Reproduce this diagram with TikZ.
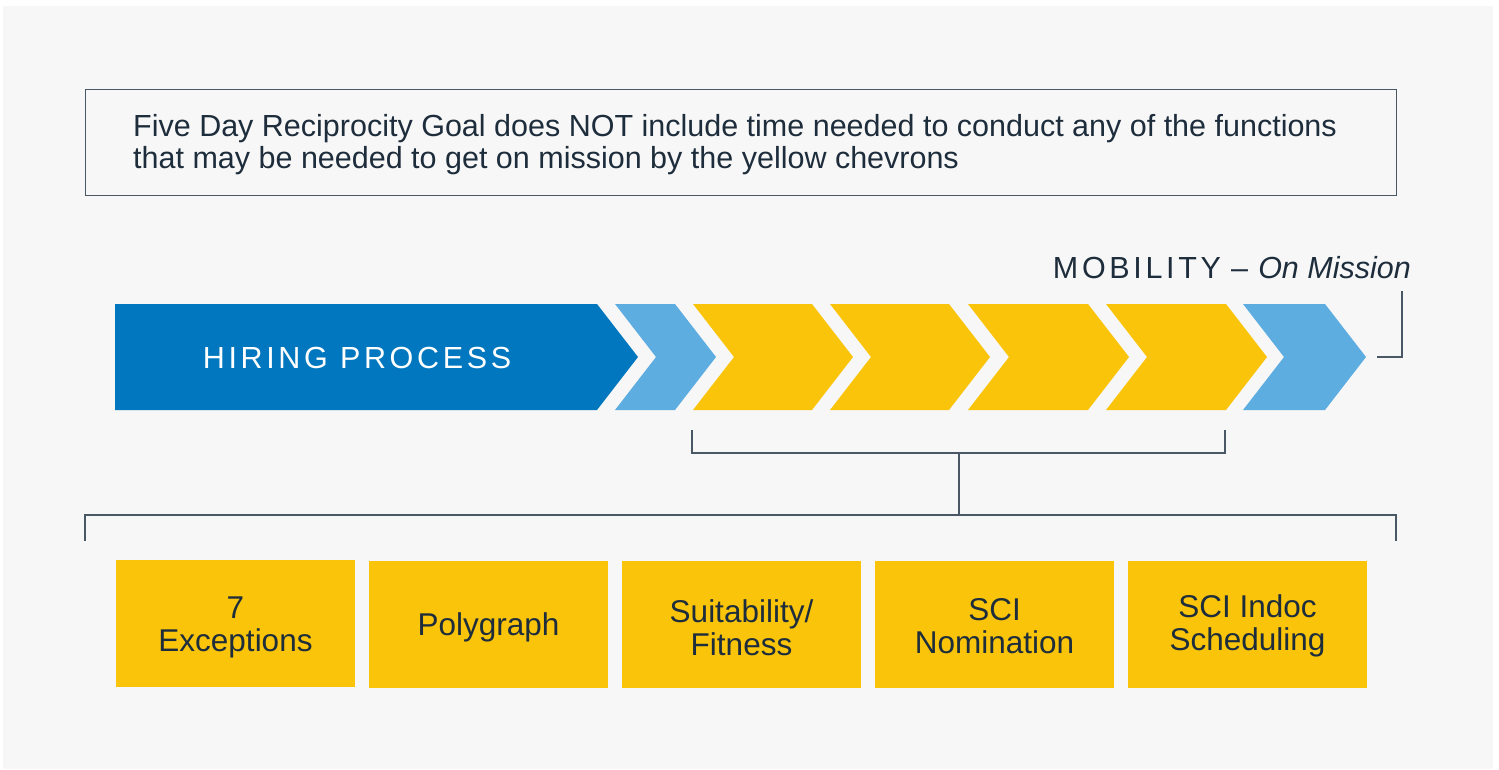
\documentclass[tikz,border=0pt]{standalone}
\usepackage{fontspec}
\setmainfont{Liberation Sans}
\newfontfamily\spacedfont[LetterSpace=12]{Liberation Sans}
\definecolor{bg}{HTML}{F7F7F7}
\definecolor{dblue}{HTML}{0077BE}
\definecolor{lblue}{HTML}{5EADE0}
\definecolor{yel}{HTML}{F9C409}
\definecolor{txt}{HTML}{1E2D3C}
\definecolor{linec}{HTML}{4A5866}
\newcommand\chevshape[3]{\fill[#1] (#2,304) -- (#3,304) -- ({#3+41},357) -- (#3,410) -- (#2,410) -- ({#2+41},357) -- cycle;}
\begin{document}
\begin{tikzpicture}[x=1pt,y=-1pt,
  ybox/.style={fill=yel, minimum width=239pt, minimum height=127pt, inner sep=0pt},
  ylab/.style={inner sep=0pt, align=center, text=txt, font=\fontsize{31.5}{33}\selectfont},
  conn/.style={draw=linec, line width=1.3pt}]
\useasboundingbox (0,0) rectangle (1499,769);
\fill[white] (0,0) rectangle (1499,769);
\fill[bg] (3,6) rectangle (1493,769);
% goal box
\node[draw=linec, line width=1.2pt, minimum width=1311pt, minimum height=106pt, anchor=north west, inner sep=0pt] (goal) at (85,89) {};
\node[anchor=west, align=left, inner sep=0pt, text=txt, font=\fontsize{30.5}{32}\selectfont] (goaltext) at (133,144.5) {Five Day Reciprocity Goal does NOT include time needed to conduct any of the functions\\that may be needed to get on mission by the yellow chevrons};
% chevrons
\fill[dblue] (115,304) -- (597,304) -- (638,357) -- (597,410) -- (115,410) -- cycle;
\chevshape{lblue}{615}{675}
\chevshape{yel}{693}{812}
\chevshape{yel}{830}{949}
\chevshape{yel}{968}{1088}
\chevshape{yel}{1106}{1226}
\chevshape{lblue}{1243}{1325}
\node[text=white, inner sep=0pt, font=\spacedfont\fontsize{30.5}{36}\selectfont] (hiring) at (357,358) {HIRING PROCESS};
\node[anchor=east, inner sep=0pt, text=txt, font=\fontsize{30.5}{34}\selectfont] (mob) at (1411,268) {{\spacedfont MOBILITY}\,\,--\,\,\textit{On Mission}};
% brackets
\coordinate (m1) at (1402,291);
\coordinate (m2) at (1402,357);
\coordinate (m3) at (1377,357);
\draw[conn] (m1) -- (m2) -- (m3);
\coordinate (s1) at (692,430);
\coordinate (s2) at (692,453);
\coordinate (s3) at (1225,453);
\coordinate (s4) at (1225,430);
\coordinate (sc) at (959,453);
\coordinate (bc) at (959,515);
\draw[conn] (s1) -- (s2) -- (s3) -- (s4);
\draw[conn] (sc) -- (bc);
\coordinate (b1) at (85,541);
\coordinate (b2) at (85,515);
\coordinate (b3) at (1396,515);
\coordinate (b4) at (1396,541);
\draw[conn] (b1) -- (b2) -- (b3) -- (b4);
% boxes
\node[ybox] (exc) at (235.5,623.5) {};
\node[ybox] (poly) at (488.5,624) {};
\node[ybox] (suit) at (741.5,624) {};
\node[ybox] (scin) at (994.5,624) {};
\node[ybox] (scii) at (1247.5,624) {};
\node[ylab] (exct) at ([yshift=-4pt]exc.center) {7\\Exceptions};
\node[ylab] (polyt) at ([yshift=-3pt]poly.center) {Polygraph};
\node[ylab] (suitt) at ([yshift=-4pt]suit.center) {Suitability/\\Fitness};
\node[ylab] (scint) at ([yshift=-2pt]scin.center) {SCI\\Nomination};
\node[ylab] (sciit) at ([yshift=-2pt]scii.center) {SCI Indoc\\Scheduling};
\end{tikzpicture}
\end{document}
